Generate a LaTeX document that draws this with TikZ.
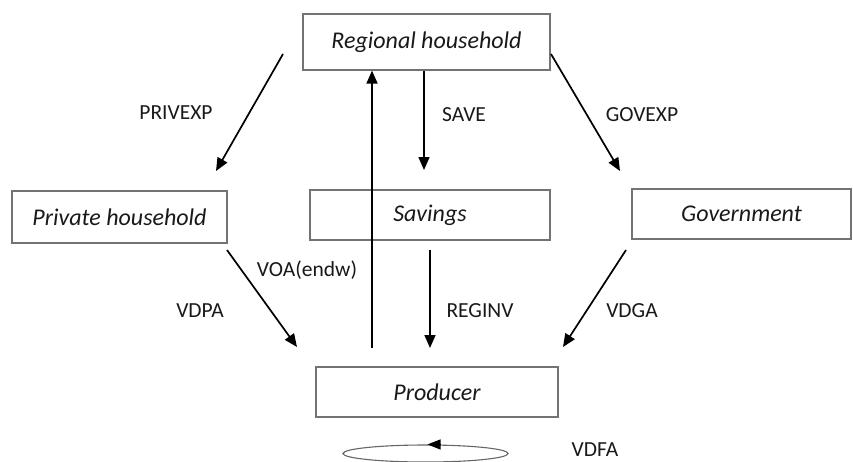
\documentclass[tikz,border=0pt]{standalone}
\usepackage{fontspec}
\setmainfont{Carlito}
\usetikzlibrary{arrows.meta,shapes.geometric}
\begin{document}
\begin{tikzpicture}[x=1pt,y=-1pt,
  box/.style={draw=black!55,line width=1.2pt,rectangle,inner sep=0pt,font=\fontsize{24}{28}\selectfont\itshape,text=black!90},
  lbl/.style={font=\fontsize{21.5}{24}\selectfont,text=black!90,inner sep=0pt},
  arr/.style={line width=1.7pt,-{Triangle[length=13pt,width=11pt]}}]
\useasboundingbox (0,0) rectangle (853,461);
\node[box,minimum width=247pt,minimum height=56pt] (reg) at (426.5,42) {Regional household};
\node[box,minimum width=215pt,minimum height=52pt] (priv) at (119.5,217) {Private household};
\node[box,minimum width=240pt,minimum height=50pt] (sav) at (430,215) {Savings};
\node[box,minimum width=219pt,minimum height=50pt] (gov) at (741.5,214) {Government};
\node[box,minimum width=242pt,minimum height=50pt] (prod) at (437,392) {Producer};
% free ends
\coordinate (pe1) at (283,54); \coordinate (pe2) at (216,171);
\coordinate (ge1) at (551,54); \coordinate (ge2) at (620,171);
\coordinate (vp1) at (227,250); \coordinate (vp2) at (297,347);
\coordinate (vg1) at (626,250); \coordinate (vg2) at (563,347);
\coordinate (up1) at (372,348);
\coordinate (ri1) at (430,250); \coordinate (ri2) at (430,348);
\coordinate (sv2) at (424,170);
\draw[arr] (pe1) -- (pe2);
\draw[arr] (ge1) -- (ge2);
\draw[arr] (vp1) -- (vp2);
\draw[arr] (vg1) -- (vg2);
\draw[arr] (up1) -- (up1 |- reg.south);
\draw[arr] (sv2 |- reg.south) -- (sv2);
\draw[arr] (ri1) -- (ri2);
% labels
\node[lbl] (l1) at (176,113) {PRIVEXP};
\node[lbl] (l2) at (464,115) {SAVE};
\node[lbl] (l3) at (642,115) {GOVEXP};
\node[lbl] (l4) at (307,270) {VOA(endw)};
\node[lbl] (l5) at (200,311) {VDPA};
\node[lbl] (l6) at (480,311) {REGINV};
\node[lbl] (l7) at (632,311) {VDGA};
\node[lbl] (l8) at (595,450) {VDFA};
% loop
\node[draw=black!60,line width=1.1pt,ellipse,minimum width=165pt,minimum height=17pt,inner sep=0pt] (loop) at (425.5,453.5) {};
\draw[-{Triangle[length=13pt,width=10pt]},line width=1.1pt] ([xshift=14pt]loop.north) -- ([xshift=2pt]loop.north);
\end{tikzpicture}
\end{document}
